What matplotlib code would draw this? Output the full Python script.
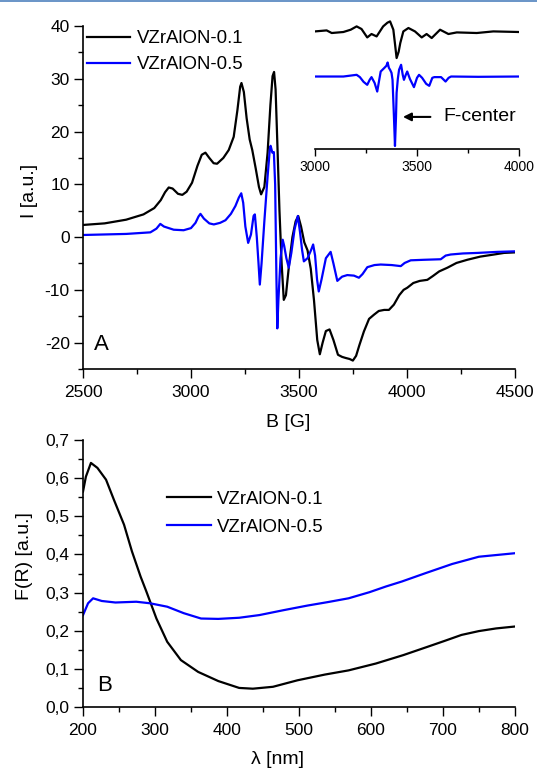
import numpy as np
import matplotlib
matplotlib.use("Agg")
import matplotlib.pyplot as plt
from matplotlib.ticker import MultipleLocator, FuncFormatter

plt.rcParams['font.family'] = ['Liberation Sans', 'DejaVu Sans']
plt.rcParams['axes.unicode_minus'] = False

labels = ['VZrAlON-0.1', 'VZrAlON-0.5']

# --- panel A: EPR spectra, B [G] vs I [a.u.]
epr_b_01 = [2500, 2600, 2700, 2780, 2830, 2860, 2880, 2897, 2915, 2940, 2960, 2980,
            3005, 3030, 3050, 3067, 3085, 3105, 3121, 3150, 3175, 3198, 3215, 3228,
            3234, 3245, 3258, 3272, 3284, 3300, 3315, 3325, 3340, 3355, 3368, 3378,
            3385, 3392, 3400, 3410, 3420, 3430, 3440, 3455, 3470, 3485, 3497, 3510,
            3525, 3540, 3555, 3570, 3585, 3597, 3610, 3625, 3642, 3660, 3681, 3700,
            3716, 3735, 3750, 3765, 3780, 3801, 3825, 3848, 3870, 3895, 3917, 3940,
            3965, 3985, 4002, 4030, 4060, 4095, 4120, 4150, 4188, 4230, 4280, 4340,
            4404, 4450, 4500]
epr_i_01 = [2.3, 2.6, 3.3, 4.3, 5.5, 7.0, 8.5, 9.4, 9.2, 8.2, 8.0, 8.6,
            10.3, 13.5, 15.6, 16.0, 15.0, 14.0, 13.9, 15.0, 16.5, 19.0, 24.0, 28.5,
            29.2, 27.5, 22.5, 18.5, 16.5, 13.0, 9.5, 8.1, 9.5, 16.0, 25.0, 30.5,
            31.3, 28.0, 18.0, 5.0, -5.0, -11.9, -11.0, -5.0, 0.0, 3.0, 4.0, 2.0,
            -1.0, -2.5, -6.0, -12.0, -19.5, -22.2, -20.0, -17.8, -17.5, -19.5, -22.3, -22.7,
            -22.9, -23.1, -23.4, -22.5, -20.5, -17.9, -15.5, -14.7, -14.0, -13.8, -13.8, -12.8,
            -11.0, -10.0, -9.6, -8.7, -8.3, -8.1, -7.4, -6.5, -5.8, -4.9, -4.3, -3.7,
            -3.3, -3.0, -2.9]

epr_b_05 = [2500, 2600, 2700, 2812, 2840, 2858, 2875, 2920, 2966, 3000, 3021, 3035,
            3044, 3060, 3085, 3106, 3135, 3160, 3185, 3206, 3222, 3233, 3242, 3252,
            3265, 3278, 3290, 3296, 3305, 3313, 3319, 3327, 3340, 3355, 3365, 3369,
            3377, 3384, 3390, 3396, 3400, 3405, 3415, 3425, 3432, 3442, 3453, 3465,
            3480, 3495, 3505, 3515, 3523, 3540, 3556, 3566, 3575, 3584, 3592, 3605,
            3625, 3647, 3660, 3678, 3700, 3724, 3755, 3778, 3795, 3817, 3850, 3879,
            3930, 3972, 3990, 4018, 4080, 4157, 4180, 4203, 4260, 4327, 4420, 4500]
epr_i_05 = [0.4, 0.5, 0.6, 0.9, 1.6, 2.5, 2.0, 1.4, 1.3, 1.7, 2.7, 3.9,
            4.4, 3.5, 2.6, 2.4, 2.7, 3.2, 4.4, 5.9, 7.5, 8.3, 6.5, 2.0,
            -1.1, 0.5, 4.0, 4.3, 0.0, -5.0, -9.0, -5.0, 3.0, 11.5, 16.5, 17.3,
            16.0, 16.1, 10.0, -8.0, -17.3, -12.0, -4.0, -0.5, -1.7, -4.0, -5.8, -3.0,
            1.5, 4.0, 1.0, -2.5, -4.6, -4.0, -2.5, -1.4, -3.5, -8.0, -10.3, -8.0,
            -4.0, -2.8, -5.0, -8.3, -7.5, -7.2, -7.3, -7.7, -7.0, -5.7, -5.3, -5.2,
            -5.3, -5.5, -4.9, -4.4, -4.3, -4.2, -3.5, -3.3, -3.1, -3.0, -2.8, -2.7]

# --- inset: expanded 3000-4000 G region (arbitrary units)
ins_b_01 = [3000, 3057, 3082, 3139, 3175, 3204, 3228, 3256, 3277, 3302, 3334, 3355,
            3368, 3384, 3392, 3400, 3410, 3418, 3433, 3458, 3490, 3523, 3547, 3572,
            3613, 3654, 3695, 3793, 3874, 4000]
ins_i_01 = [0.3, 1.3, -1.3, -0.3, 2.0, 5.3, 2.7, -5.7, -2.3, -4.7, 5.3, 9.0,
            10.3, 2.0, -12.0, -26.3, -20.0, -11.3, 0.3, 3.7, 0.3, -5.7, -2.3, -6.3,
            2.0, -2.3, -0.7, -1.3, 0.3, -0.3]
ins_b_05 = [3000, 3139, 3204, 3220, 3238, 3256, 3268, 3277, 3292, 3305, 3314, 3322,
            3339, 3350, 3356, 3362, 3368, 3375, 3380, 3387, 3392, 3397, 3400, 3406,
            3412, 3422, 3430, 3436, 3445, 3452, 3465, 3485, 3500, 3510, 3525, 3545,
            3560, 3575, 3585, 3618, 3640, 3655, 3667, 3800, 4000]
ins_i_05 = [0.3, 0.3, 2.0, -0.3, -5.0, -8.0, -3.0, -0.3, -6.0, -14.7, -4.0, 5.3,
            8.7, 11.0, 14.3, 9.0, 7.0, 4.0, -3.0, -40.0, -69.0, -40.0, -16.0, -2.0,
            7.0, 12.0, 2.0, -3.0, 2.0, 5.3, -2.0, -10.3, -1.0, 2.0, -1.0, -7.0,
            -9.0, -1.0, -0.3, -0.3, -4.7, -1.0, 0.3, 0.0, 0.3]

# --- panel B: diffuse reflectance, lambda [nm] vs F(R)
uv_l_01 = [200, 204, 211, 220, 232, 243, 257, 268, 280, 288, 302, 317, 336, 360,
           388, 417, 436, 464, 498, 536, 569, 607, 645, 679, 702, 726, 750, 774, 800]
uv_f_01 = [0.565, 0.604, 0.640, 0.627, 0.596, 0.543, 0.478, 0.408, 0.342, 0.303,
           0.232, 0.171, 0.123, 0.092, 0.068, 0.050, 0.048, 0.053, 0.070, 0.085,
           0.096, 0.114, 0.136, 0.158, 0.173, 0.189, 0.199, 0.206, 0.211]
uv_l_05 = [200, 207, 214, 226, 245, 274, 293, 317, 340, 364, 388, 417, 445, 479,
           512, 540, 569, 598, 621, 643, 676, 713, 750, 799]
uv_f_05 = [0.241, 0.272, 0.285, 0.278, 0.274, 0.276, 0.272, 0.263, 0.246, 0.232,
           0.231, 0.234, 0.241, 0.254, 0.266, 0.275, 0.285, 0.301, 0.316, 0.329,
           0.351, 0.375, 0.394, 0.403]

BLUE = '#0000ff'
LW = 1.6


def style_axis(ax):
    for s in ('top', 'right'):
        ax.spines[s].set_visible(False)
    for s in ('left', 'bottom'):
        ax.spines[s].set_linewidth(1.2)
    ax.tick_params(which='major', direction='out', length=6.5, width=1.0,
                   labelsize=12.5, pad=3)
    ax.tick_params(which='minor', direction='out', length=3.5, width=1.0)


fig = plt.figure(figsize=(5.37, 7.72), dpi=100)

# panel A
axA = fig.add_axes([0.1546, 0.522, 0.804, 0.4443])
axA.plot(epr_b_01, epr_i_01, color='black', lw=LW, label=labels[0])
axA.plot(epr_b_05, epr_i_05, color=BLUE, lw=LW, label=labels[1])
axA.set_xlim(2500, 4500)
axA.set_ylim(-25, 40)
axA.xaxis.set_major_locator(MultipleLocator(500))
axA.xaxis.set_minor_locator(MultipleLocator(250))
axA.yaxis.set_major_locator(MultipleLocator(10))
axA.yaxis.set_minor_locator(MultipleLocator(5))
style_axis(axA)
axA.tick_params(axis='x', pad=5)
axA.set_xlabel('B [G]', fontsize=14, va='top')
axA.xaxis.set_label_coords(0.475, -0.132)
axA.set_ylabel('I [a.u.]', fontsize=14)
axA.yaxis.set_label_coords(-0.104, 0.52)
axA.legend(loc='upper left', bbox_to_anchor=(0.009, 0.988), frameon=False,
           fontsize=13.4, handlelength=2.3, handletextpad=0.4,
           labelspacing=0.5, borderpad=0, borderaxespad=0)
axA.text(0.043, 0.072, 'A', transform=axA.transAxes, fontsize=16,
         ha='center', va='center')

# inset
axI = fig.add_axes([0.5866, 0.807, 0.3799, 0.174])
axI.plot(ins_b_01, np.array(ins_i_01) + 45, color='black', lw=LW)
axI.plot(ins_b_05, ins_i_05, color=BLUE, lw=LW)
axI.set_xlim(3000, 4000)
axI.set_ylim(-72, 62)
axI.patch.set_alpha(0)
for s in ('top', 'right', 'left'):
    axI.spines[s].set_visible(False)
axI.spines['bottom'].set_linewidth(1.2)
axI.set_yticks([])
axI.xaxis.set_major_locator(MultipleLocator(500))
axI.xaxis.set_minor_locator(MultipleLocator(250))
axI.tick_params(which='major', axis='x', direction='out', length=5, width=1.0,
                labelsize=10, pad=3)
axI.tick_params(which='minor', axis='x', direction='out', length=3, width=1.0)
axI.annotate('F-center', xy=(3431, -40), xytext=(3627, -40), fontsize=14,
             ha='left', va='center',
             arrowprops=dict(arrowstyle='-|>', color='black', lw=1.5,
                             mutation_scale=12, shrinkA=7, shrinkB=0))

# panel B
axB = fig.add_axes([0.1546, 0.0842, 0.804, 0.3458])
axB.plot(uv_l_01, uv_f_01, color='black', lw=LW, label=labels[0])
axB.plot(uv_l_05, uv_f_05, color=BLUE, lw=LW, label=labels[1])
axB.set_xlim(200, 800)
axB.set_ylim(0, 0.7)
axB.xaxis.set_major_locator(MultipleLocator(100))
axB.xaxis.set_minor_locator(MultipleLocator(50))
axB.yaxis.set_major_locator(MultipleLocator(0.1))
axB.yaxis.set_minor_locator(MultipleLocator(0.05))
axB.yaxis.set_major_formatter(FuncFormatter(lambda v, p: f'{v:.1f}'.replace('.', ',')))
style_axis(axB)
axB.tick_params(axis='x', pad=5)
axB.set_xlabel('λ [nm]', fontsize=14, va='top')
axB.xaxis.set_label_coords(0.451, -0.165)
axB.set_ylabel('F(R) [a.u.]', fontsize=14)
axB.yaxis.set_label_coords(-0.116, 0.566)
axB.legend(loc='upper left', bbox_to_anchor=(0.194, 0.81), frameon=False,
           fontsize=13.4, handlelength=2.4, handletextpad=0.3,
           labelspacing=0.6, borderpad=0, borderaxespad=0)
axB.text(0.05, 0.079, 'B', transform=axB.transAxes, fontsize=16,
         ha='center', va='center')

fig.add_artist(plt.Line2D([0, 1], [0.999, 0.999], color='#4f81bd', lw=1.2))

fig.savefig('out.png', dpi=100)
